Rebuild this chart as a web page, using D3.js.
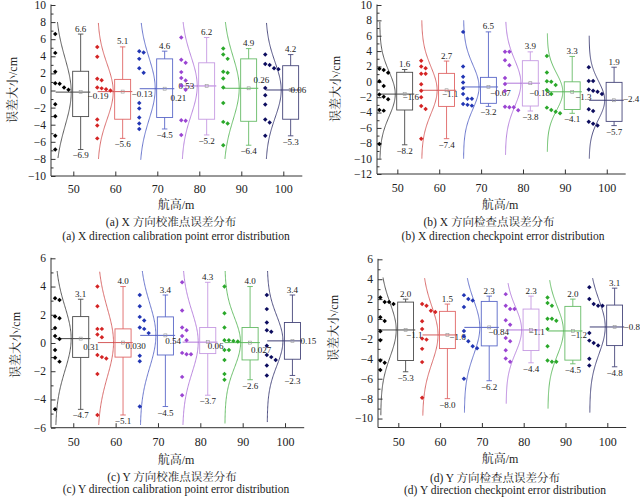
<!DOCTYPE html>
<html><head><meta charset="utf-8">
<script src="https://cdn.jsdelivr.net/npm/d3@7"></script>
<style>body{margin:0;background:#fff}svg{display:block}</style>
</head><body>
<svg id="chart" width="640" height="497"></svg>
<script>
// ---------------- DATA ----------------
const altitudes = [50, 60, 70, 80, 90, 100];

// (a) X direction calibration points
const pointsA = [
  [6.6, 4.4, 2.2, 0.86, 0.78, 0.35, 0.08, -1.6, -3.0, -5.3, -6.9],
  [5.1, 3.95, 1.37, 1.2, 0.35, 0.25, 0.15, 0.0, -3.4, -4.1, -5.6],
  [4.6, 4.45, 3.7, 2.6, 2.07, -1.45, -2.1, -3.16, -3.87, -4.5],
  [6.2, 3.6, 3.24, 2.15, 1.45, 1.17, 0.58, 0.1, -3.48, -3.55, -5.2],
  [4.9, 4.2, 3.7, 2.2, 2.07, 1.4, 0.35, -1.45, -3.67, -3.87, -6.4],
  [4.2, 3.1, 2.97, 2.6, 2.5, 0.3, -0.55, -1.64, -3.4, -3.75, -5.3]
];
const q3A = [2.25, 1.3, 3.7, 3.24, 3.7, 2.9];
const q1A = [-3.05, -3.36, -3.16, -3.36, -3.6, -3.36];
const whiskerHighA = [6.6, 5.1, 4.6, 6.2, 4.9, 4.2];
const whiskerLowA = [-6.9, -5.6, -4.5, -5.2, -6.4, -5.3];
const meanA = ["-0.19", "-0.13", "0.21", "0.53", "0.26", "0.06"];
const curveTopA = [8, 7.9, 7.9, 8, 8, 7.9];
const curveBottomA = [-7.9, -8, -8.1, -8, -8, -8];

// (b) X direction checkpoints
const pointsB = [
  [1.71, 1.54, 1.19, 0.07, -0.54, -1.64, -1.93, -2.28, -3.67, -3.75, -8.1],
  [2.75, 2.0, 1.76, 1.06, 1.06, -0.33, -1.15, -2.0, -3.15, -3.55, -7.4],
  [6.5, 2.0, 0.67, -0.1, -0.85, -1.6, -2.2, -2.2, -2.9, -3.0, -3.1],
  [3.9, 3.9, 2.8, 2.15, 0.5, -0.28, -1.2, -3.25, -3.3, -3.3, -3.7],
  [3.36, 1.2, 0.06, 0.0, -0.4, -1.06, -1.6, -3.36, -3.67, -3.9, -4.1],
  [1.9, 0.1, 0.1, -1.0, -1.15, -1.28, -1.6, -3.58, -3.8, -5.2, -5.45, -5.7]
];
const q3B = [1.24, 1.1, 0.58, 2.75, 0.0, -0.07];
const q1B = [-3.67, -3.2, -2.8, -3.15, -3.6, -5.15];
const whiskerHighB = [1.6, 2.7, 6.5, 3.9, 3.3, 1.9];
const whiskerLowB = [-8.2, -7.4, -3.2, -3.8, -4.1, -5.7];
const meanB = ["-1.6", "-1.1", "-0.67", "-0.18", "-1.3", "-2.4"];
const curveTopB = [7.8, 8, 8, 7.8, 6.3, 6];
const curveBottomB = [-10, -10, -10, -9.5, -9.1, -10];

// (c) Y direction calibration points
const pointsC = [
  [3.17, 3.05, 1.87, 1.75, 1.06, 0.5, 0.28, -0.5, -1.04, -1.32, -4.7],
  [4.0, 2.6, 1.0, 1.0, 0.6, 0.4, -0.85, -1.0, -1.1, -2.2, -5.1],
  [3.4, 2.6, 1.85, 1.6, 1.1, 1.0, 0.7, -0.9, -1.3, -4.5],
  [4.3, 2.3, 1.1, 0.9, 0.5, 0.2, -0.7, -0.8, -0.8, -2.4, -3.7],
  [4.0, 2.1, 1.1, 0.2, 0.2, 0.15, 0.1, -0.5, -0.5, -1.2, -2.2, -2.6],
  [3.4, 2.4, 1.45, 0.9, 0.8, -0.2, -0.85, -1.0, -1.2, -1.6, -2.3]
];
const q3C = [1.87, 1.0, 1.85, 1.1, 1.1, 1.45];
const q1C = [-1.02, -1.0, -0.85, -0.75, -1.2, -1.15];
const whiskerHighC = [3.1, 4.0, 3.4, 4.3, 4.0, 3.4];
const whiskerLowC = [-4.7, -5.1, -4.5, -3.7, -2.6, -2.3];
const meanC = ["0.31", "0.030", "0.54", "0.06", "0.027", "0.15"];
const curveTopC = [5.1, 5.05, 5.1, 5.1, 5.1, 5.1];
const curveBottomC = [-5.8, -5.8, -5.8, -5.8, -5.7, -5.6];

// (d) Y direction checkpoints
const pointsD = [
  [2.17, 1.7, 1.7, 1.5, 0.17, -0.2, -1.23, -2.13, -4.17, -4.4, -5.13],
  [1.5, 1.33, 0.83, 0.7, -0.23, -1.0, -1.97, -2.07, -3.0, -4.33, -7.9],
  [2.4, 2.0, 1.87, 1.2, -1.2, -1.73, -2.23, -2.73, -2.93, -6.0],
  [2.5, 1.33, 1.0, 1.0, -0.13, -0.57, -1.9, -2.23, -3.13, -3.97, -4.3],
  [2.17, 1.6, 1.33, 0.03, 0.03, -0.17, -1.0, -2.73, -4.17, -4.3, -4.3],
  [3.2, 2.0, 1.5, 1.33, 1.33, -1.4, -2.17, -2.4, -2.67, -4.0, -4.67]
];
const q3D = [1.7, 0.77, 1.77, 1.0, 1.27, 1.4];
const q1D = [-4.17, -2.97, -2.7, -3.17, -4.13, -2.67];
const whiskerHighD = [2.0, 1.5, 2.3, 2.3, 2.0, 3.1];
const whiskerLowD = [-5.3, -8.0, -6.2, -4.4, -4.5, -4.8];
const meanD = ["-1.1", "-1.6", "-0.84", "-1.1", "-1.2", "-0.8"];
const curveTopD = [4.17, 4.1, 4.1, 3.6, 3.9, 4.1];
const curveBottomD = [-9.67, -9.7, -9.4, -8.5, -9.0, -9.4];

const yTicksA = [-10, -8, -6, -4, -2, 0, 2, 4, 6, 8, 10];
const yTicksB = [-12, -10, -8, -6, -4, -2, 0, 2, 4, 6, 8, 10];
const yTicksC = [-6, -4, -2, 0, 2, 4, 6];
const yTicksD = [-10, -8, -6, -4, -2, 0, 2, 4, 6];

const xTitle = "航高/m";
const yTitle = "误差大小/cm";

// ---------------- STYLE / LAYOUT ----------------
const pointColors = ["#000000", "#d42424", "#2236b4", "#9a44d2", "#2aa82a", "#0c0c5e"];
const boxColors   = ["#4a4a4a", "#e06666", "#5a68c8", "#c69ae2", "#66bb66", "#46467a"];
const curveColors = ["#333333", "#d04a4a", "#4656c0", "#a868d6", "#48b048", "#282866"];
const FONT = "'Liberation Serif','Times New Roman','Noto Serif CJK SC','Noto Sans CJK SC',serif";

const panels = [
  { points: pointsA, q1: q1A, q3: q3A, wHi: whiskerHighA, wLo: whiskerLowA, mean: meanA,
    cTop: curveTopA, cBot: curveBottomA, yTicks: yTicksA, yDom: [-10, 10],
    xr: [52.3, 304.3], yr: [176, 5], axisX: 51, xPad: 8,
    labelDx: [8, 10, 7, -27, 6, 1], labelDy: [4, 2, 9, 0, -8.5, 0],
    xTitlePos: [176, 209], yTitlePos: [13, 90],
    cap1: "(a) X 方向校准点误差分布", cap1Pos: [171, 226],
    cap2: "(a) X direction calibration point error distribution", cap2Pos: [176, 240] },
  { points: pointsB, q1: q1B, q3: q3B, wHi: whiskerHighB, wLo: whiskerLowB, mean: meanB,
    cTop: curveTopB, cBot: curveBottomB, yTicks: yTicksB, yDom: [-12, 10],
    xr: [376.4, 627.7], yr: [174, 5], axisX: 377, xPad: 9,
    labelDx: [-1, -3.5, 2.5, 0, 4, 10], labelDy: [3, 4, 6, 10, 5, -1],
    xTitlePos: [500, 209], yTitlePos: [336, 89],
    cap1: "(b) X 方向检查点误差分布", cap1Pos: [489, 226],
    cap2: "(b) X direction checkpoint error distribution", cap2Pos: [503, 240] },
  { points: pointsC, q1: q1C, q3: q3C, wHi: whiskerHighC, wLo: whiskerLowC, mean: meanC,
    cTop: curveTopC, cBot: curveBottomC, yTicks: yTicksC, yDom: [-6, 6],
    xr: [52.1, 306.2], yr: [427.7, 258.3], axisX: 51, xPad: 10,
    labelDx: [3.5, 3.5, 1, 1, 2, 9], labelDy: [8, 3, 5, 3.5, 7, 0],
    xTitlePos: [176, 464], yTitlePos: [16, 345],
    cap1: "(c) Y 方向校准点误差分布", cap1Pos: [172, 481],
    cap2: "(c) Y direction calibration point error distribution", cap2Pos: [176, 493] },
  { points: pointsD, q1: q1D, q3: q3D, wHi: whiskerHighD, wLo: whiskerLowD, mean: meanD,
    cTop: curveTopD, cBot: curveBottomD, yTicks: yTicksD, yDom: [-10.9, 6],
    xr: [377.4, 628.2], yr: [427.5, 259.3], axisX: 378, xPad: 10,
    labelDx: [1.5, 3, 0, -1.5, -1, 10], labelDy: [5, 2, 4, 2, 4, 0],
    xTitlePos: [500, 463], yTitlePos: [334, 328],
    cap1: "(d) Y 方向检查点误差分布", cap1Pos: [495, 482],
    cap2: "(d) Y direction checkpoint error distribution", cap2Pos: [505, 494] }
];

const svg = d3.select("#chart");
const minus = s => s.replace("-", "\u2212");
const fmt1 = d3.format(".1f");

panels.forEach(p => {
  const g = svg.append("g");
  const x = d3.scaleLinear().domain([45, 105]).range(p.xr);
  const y = d3.scaleLinear().domain(p.yDom).range(p.yr);
  const pxPerUnit = Math.abs(y(1) - y(0));

  // minor y ticks
  const minor = p.yTicks.map(v => v + 1).filter(v => v < p.yDom[1] && v > p.yDom[0]);
  g.append("g").attr("transform", `translate(${p.axisX},0)`)
    .call(d3.axisLeft(y).tickValues(minor).tickSizeInner(-2.5).tickSizeOuter(0).tickFormat(""))
    .call(s => s.select(".domain").remove())
    .selectAll("line").attr("stroke", "#333");
  // major y axis
  const ya = g.append("g").attr("transform", `translate(${p.axisX},0)`)
    .call(d3.axisLeft(y).tickValues(p.yTicks).tickSizeInner(-4.5).tickSizeOuter(0).tickPadding(5));
  ya.select(".domain").attr("stroke", "#333").attr("d", `M0,${p.yr[1] - 0.5}V${p.yr[0]}`);
  ya.selectAll("line").attr("stroke", "#333");
  ya.selectAll("text").attr("font-family", FONT).attr("font-size", 11.5).attr("fill", "#222").attr("dy", "0.3em");

  // x axis
  const xa = g.append("g").attr("transform", `translate(0,${p.yr[0]})`)
    .call(d3.axisBottom(x).tickValues(altitudes).tickSizeInner(-4.5).tickSizeOuter(0).tickPadding(p.xPad));
  xa.select(".domain").attr("stroke", "#333").attr("d", `M${p.axisX},0H${p.xr[1] - 2}`);
  xa.selectAll("line").attr("stroke", "#333");
  xa.selectAll("text").attr("font-family", FONT).attr("font-size", 12).attr("fill", "#222");

  // titles
  g.append("text").attr("x", p.xTitlePos[0]).attr("y", p.xTitlePos[1]).attr("text-anchor", "middle")
    .attr("font-family", FONT).attr("font-size", 12).attr("fill", "#222").text(xTitle);
  g.append("text").attr("transform", `translate(${p.yTitlePos[0]},${p.yTitlePos[1]}) rotate(-90)`)
    .attr("text-anchor", "middle").attr("dy", "0.35em")
    .attr("font-family", FONT).attr("font-size", 12).attr("fill", "#222").text(yTitle);
  g.append("text").attr("x", p.cap1Pos[0]).attr("y", p.cap1Pos[1]).attr("text-anchor", "middle")
    .attr("font-family", FONT).attr("font-size", 11.5).attr("fill", "#222").text(p.cap1);
  g.append("text").attr("x", p.cap2Pos[0]).attr("y", p.cap2Pos[1]).attr("text-anchor", "middle")
    .attr("font-family", FONT).attr("font-size", 11.5).attr("fill", "#222").text(p.cap2);

  altitudes.forEach((h, i) => {
    const col = pointColors[i], bcol = boxColors[i], ccol = curveColors[i];
    const m = +p.mean[i];
    const vals = p.points[i];
    const sd = d3.deviation(vals);
    const bc = h + 1.75, bw = 3.8;

    // normal curve
    const base = h - 4.2, amp = 3.7;
    const ys = d3.range(p.cTop[i], p.cBot[i] - 0.001, -(p.cTop[i] - p.cBot[i]) / 120);
    g.append("path")
      .attr("d", d3.line().x(v => x(base + amp * Math.exp(-((v - m) ** 2) / (2 * sd * sd)))).y(v => y(v))(ys))
      .attr("fill", "none").attr("stroke", ccol).attr("stroke-width", 0.8);

    // mean line
    g.append("line").attr("x1", x(base)).attr("x2", x(bc + bw / 2 + 0.4))
      .attr("y1", y(m)).attr("y2", y(m)).attr("stroke", ccol).attr("stroke-width", 0.9);

    // whiskers
    [[p.q3[i], p.wHi[i]], [p.q1[i], p.wLo[i]]].forEach(([a, b]) => {
      g.append("line").attr("x1", x(bc)).attr("x2", x(bc)).attr("y1", y(a)).attr("y2", y(b))
        .attr("stroke", bcol).attr("stroke-width", 0.9);
      g.append("line").attr("x1", x(bc - 0.65)).attr("x2", x(bc + 0.65)).attr("y1", y(b)).attr("y2", y(b))
        .attr("stroke", bcol).attr("stroke-width", 0.9);
    });
    // box
    g.append("rect").attr("x", x(bc - bw / 2)).attr("width", x(bc + bw / 2) - x(bc - bw / 2))
      .attr("y", y(p.q3[i])).attr("height", y(p.q1[i]) - y(p.q3[i]))
      .attr("fill", "none").attr("stroke", bcol).attr("stroke-width", 0.9);
    // mean marker
    g.append("rect").attr("x", x(bc) - 1.5).attr("y", y(m) - 1.5).attr("width", 3).attr("height", 3)
      .attr("fill", "none").attr("stroke", "#999").attr("stroke-width", 0.6);

    // whisker labels
    g.append("text").attr("x", x(bc)).attr("y", y(p.wHi[i]) - 2.5).attr("text-anchor", "middle")
      .attr("font-family", FONT).attr("font-size", 9).attr("fill", "#222").text(fmt1(p.wHi[i]));
    g.append("text").attr("x", x(bc)).attr("y", y(p.wLo[i]) + 9).attr("text-anchor", "middle")
      .attr("font-family", FONT).attr("font-size", 9).attr("fill", "#222").text(fmt1(p.wLo[i]));
    // mean label
    g.append("text").attr("x", x(h + 1.5) + p.labelDx[i]).attr("y", y(m) + p.labelDy[i]).attr("dy", "0.35em")
      .attr("font-family", FONT).attr("font-size", 9).attr("fill", "#222").text(minus(p.mean[i]));

    // scatter points (stacked sideways when values are close)
    const sorted = vals.slice().sort((a, b) => b - a);
    let prev = null, c = 0;
    const placed = sorted.map(v => {
      if (prev !== null && (prev - v) * pxPerUnit < 5) c = Math.min(c + 1, 4); else c = 0;
      prev = v;
      return { v, c };
    });
    g.selectAll(null).data(placed).enter().append("path")
      .attr("d", d3.symbol(d3.symbolSquare, 10)())
      .attr("transform", d => `translate(${x(h - 4.3 + d.c * 1.05)},${y(d.v)}) rotate(45)`)
      .attr("fill", col);
  });
});
</script>
</body></html>
